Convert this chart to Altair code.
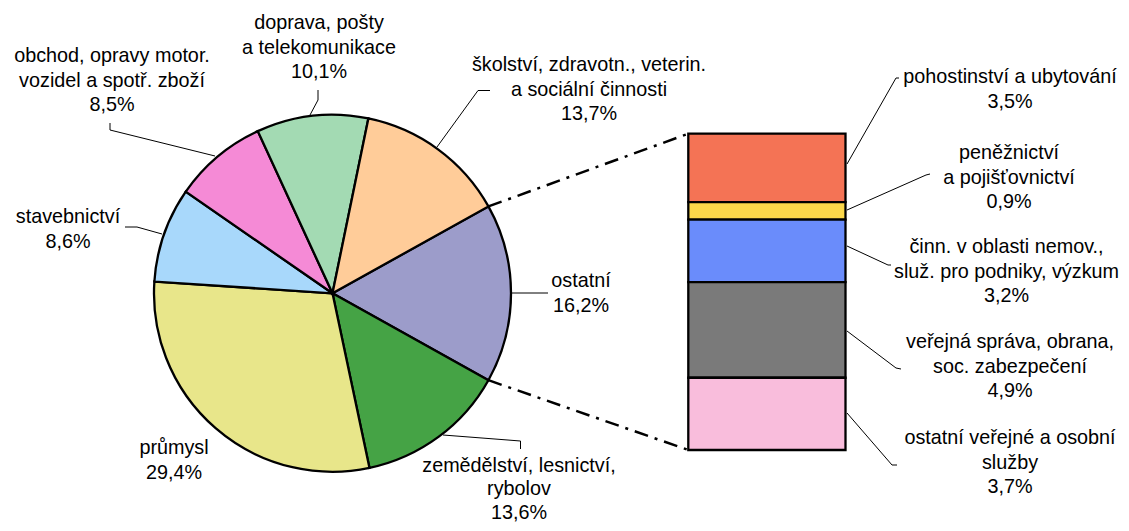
import math
import altair as alt
import pandas as pd

# ---------------- data ----------------
pie_names = [
    "ostatní",
    "zemědělství, lesnictví, rybolov",
    "průmysl",
    "stavebnictví",
    "obchod, opravy motor. vozidel a spotř. zboží",
    "doprava, pošty a telekomunikace",
    "školství, zdravotn., veterin. a sociální činnosti",
]
pie_values = [16.2, 13.6, 29.4, 8.6, 8.5, 10.1, 13.7]
pie_lines = [
    ["ostatní"],
    ["zemědělství, lesnictví,", "rybolov"],
    ["průmysl"],
    ["stavebnictví"],
    ["obchod, opravy motor.", "vozidel a spotř. zboží"],
    ["doprava, pošty", "a telekomunikace"],
    ["školství, zdravotn., veterin.", "a sociální činnosti"],
]
pie_colors = ["#9c9cca", "#45a345", "#e8e68a", "#a8d8fb", "#f58ad6", "#a3dab3", "#ffcc99"]

bar_names = [
    "pohostinství a ubytování",
    "peněžnictví a pojišťovnictví",
    "činn. v oblasti nemov., služ. pro podniky, výzkum",
    "veřejná správa, obrana, soc. zabezpečení",
    "ostatní veřejné a osobní služby",
]
bar_values = [3.5, 0.9, 3.2, 4.9, 3.7]
bar_lines = [
    ["pohostinství a ubytování"],
    ["peněžnictví", "a pojišťovnictví"],
    ["činn. v oblasti nemov.,", "služ. pro podniky, výzkum"],
    ["veřejná správa, obrana,", "soc. zabezpečení"],
    ["ostatní veřejné a osobní", "služby"],
]
bar_colors = ["#f47355", "#fcd84a", "#6a8cfb", "#7a7a7a", "#f9bddc"]

# ---------------- layout (page pixels) ----------------
OFF = 8
W, H = 1113, 515
CX, CY, R = 332.5, 293.3, 178.5
BX0, BX1, BY0, BY1 = 688.3, 845.5, 133.7, 450.0
LH = 24.5
FS = 19.8

pie_label_pos = [(581, 281), (519, 465.5), (174, 448), (68, 217), (112, 56), (319, 23), (589, 65)]
bar_label_pos = [(1010, 77), (1009, 153), (1006.5, 247), (1010, 342), (1010, 438)]

leaders = [
    [(512, 293), (548, 293)],
    [(443, 435), (520.5, 441), (520.5, 449)],
    [],
    [(162, 234), (137, 227), (125, 227)],
    [(215, 156), (110, 130), (110, 123)],
    [(310, 115), (318, 100), (318, 90)],
    [(437, 147), (478, 90.5), (490, 90.5)],
    [(847, 164), (896, 78), (899, 78)],
    [(847, 210), (926, 175), (930, 174)],
    [(847, 246), (888, 265), (891, 265)],
    [(847, 331), (896, 368), (901, 369)],
    [(847, 413), (892, 465), (897, 465)],
]


def pct(v):
    return f"{v:.1f}".replace(".", ",") + "%"


# ---------------- tables ----------------
pie_df = pd.DataFrame({"name": pie_names, "value": pie_values, "idx": range(len(pie_names))})
bar_df = pd.DataFrame({"name": bar_names, "value": bar_values, "idx": range(len(bar_names))})

total = sum(pie_values)
other_frac = pie_values[0] / total
start = math.pi / 2 - other_frac * math.pi
end_other = start + other_frac * 2 * math.pi

rows = []
for n, (lines, v, (x, y)) in enumerate(zip(pie_lines + bar_lines, pie_values + bar_values, pie_label_pos + bar_label_pos)):
    lh = 23.5 if n == 1 else LH
    for i, t in enumerate(lines + [pct(v)]):
        rows.append({"x": x - OFF, "y": y + i * lh - OFF, "t": t})
text_df = pd.DataFrame(rows)

lrows = []
for j, pts in enumerate(leaders):
    for k, (x, y) in enumerate(pts):
        lrows.append({"id": j, "k": k, "x": x - OFF, "y": y - OFF})
lead_df = pd.DataFrame(lrows)

conn_rows = []
for a, by in [(start, BY0), (end_other, BY1)]:
    conn_rows.append({
        "x": CX + R * math.sin(a) - OFF, "y": CY - R * math.cos(a) - OFF,
        "x2": BX0 - OFF, "y2": by - OFF,
    })
conn_df = pd.DataFrame(conn_rows)

color_scale = alt.Scale(domain=pie_names + bar_names, range=pie_colors + bar_colors)

pie = alt.Chart(pie_df).mark_arc(radius=R, stroke="black", strokeWidth=2.3).encode(
    theta=alt.Theta("value:Q", stack=True,
                    scale=alt.Scale(range=[start, start + 2 * math.pi])),
    order=alt.Order("idx:Q"),
    color=alt.Color("name:N", scale=color_scale, legend=None),
    x=alt.value(CX - OFF),
    y=alt.value(CY - OFF),
)

bar = alt.Chart(bar_df).transform_window(
    cum="sum(value)", frame=[None, 0], sort=[alt.SortField("idx")]
).transform_calculate(prev="datum.cum - datum.value").mark_rect(
    stroke="black", strokeWidth=2.3
).encode(
    y=alt.Y("prev:Q", scale=alt.Scale(domain=[0, sum(bar_values)], range=[BY0 - OFF, BY1 - OFF], nice=False, zero=True), axis=None),
    y2="cum:Q",
    x=alt.value(BX0 - OFF),
    x2=alt.value(BX1 - OFF),
    color=alt.Color("name:N", scale=color_scale, legend=None),
)

conn = alt.Chart(conn_df).mark_rule(strokeDash=[14, 7, 3, 7], strokeWidth=2.5, color="black").encode(
    x=alt.X("x:Q", scale=None, axis=None),
    y=alt.Y("y:Q", scale=None, axis=None),
    x2="x2:Q",
    y2="y2:Q",
)

lead = alt.Chart(lead_df).mark_line(color="black", strokeWidth=1).encode(
    x=alt.X("x:Q", scale=None, axis=None),
    y=alt.Y("y:Q", scale=None, axis=None),
    detail="id:N",
    order="k:Q",
)

text = alt.Chart(text_df).mark_text(
    font="Liberation Sans", fontSize=FS, align="center", baseline="middle", color="black"
).encode(
    x=alt.X("x:Q", scale=None, axis=None),
    y=alt.Y("y:Q", scale=None, axis=None),
    text="t:N",
)

chart = alt.layer(pie, bar, conn, lead, text).resolve_scale(
    x="independent", y="independent"
).properties(
    width=W, height=H, padding=0, autosize=alt.AutoSizeParams(type="none"),
    background="white",
).configure_view(stroke=None)

chart.save("out.html", embed_options={"renderer": "svg", "actions": False})
